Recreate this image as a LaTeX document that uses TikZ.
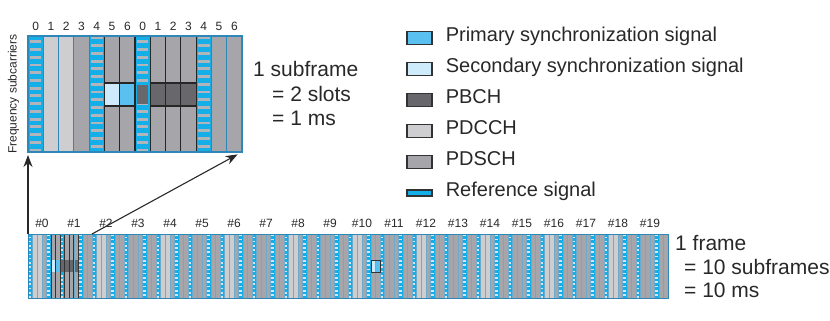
\documentclass[tikz,border=0pt]{standalone}
\usepackage{fontspec}
\setmainfont{Liberation Sans}
\usetikzlibrary{positioning, arrows.meta}
\definecolor{refsig}{RGB}{20,175,232}
\definecolor{refbar}{RGB}{178,180,186}
\definecolor{refdot}{RGB}{215,228,236}
\definecolor{pss}{RGB}{90,192,240}
\definecolor{sss}{RGB}{205,235,250}
\definecolor{pbch}{RGB}{104,104,108}
\definecolor{pdcch}{RGB}{206,206,208}
\definecolor{pdsch}{RGB}{166,166,170}
\definecolor{gridblue}{RGB}{45,135,185}
\definecolor{keyedge}{RGB}{50,50,52}
\definecolor{txt}{RGB}{40,40,40}

\tikzset{
  lbl/.style={text=txt, inner sep=0pt, text height=1.38ex, text depth=0pt},
  big/.style={lbl, font=\fontsize{20}{24}\selectfont},
  bigger/.style={lbl, font=\fontsize{21}{25}\selectfont},
  keybox/.style={draw=keyedge, line width=1.2pt, minimum width=25pt, minimum height=13pt, inner sep=0pt},
  thickcol/.style={draw=black!85, line width=1.1pt},
  thincol/.style={draw=black!80, line width=0.6pt},
}

\begin{document}
\begin{tikzpicture}[x=1pt, y=-1pt, >={Stealth[length=12pt, width=9pt]}]
  \useasboundingbox (0,0) rectangle (830,321);
  % one subframe: 2 slots of 7 symbols
  \begin{scope}[shift={(28,36)}]
    \def\w{15.2857}
    \fill[pdsch] (0,0) rectangle (214,116);
    \fill[pdcch] (\w,0) rectangle ++(2*\w,116);
    \foreach \c/\o in {0/1, 4/0, 7/1, 11/0}{
      \fill[refsig] (\c*\w,0) rectangle ++(\w,116);
      \foreach \r in {0,...,14}
        \fill[refbar] ({(\c+0.12)*\w},{(\r+0.06+0.5*\o)*7.733}) rectangle ++({0.76*\w},2.9);
    }
    \fill[sss] (5*\w,47) rectangle ++(\w,23);
    \fill[pss] (6*\w,47) rectangle ++(\w,23);
    \fill[pbch] (8*\w,47) rectangle ++(3*\w,23);
    \fill[pbch] ({7.12*\w},49) rectangle ++({0.76*\w},19);
    \foreach \c in {1,...,13}
      \draw[gridblue, line width=0.8pt] (\c*\w,0) -- ++(0,116);
    \foreach \c in {5,6,8,9,10}
      \draw[thickcol] (\c*\w,0) rectangle ++(\w,116);
    \draw[thickcol] (5*\w,47) rectangle ++(2*\w,23);
    \draw[thickcol] (8*\w,47) rectangle ++(3*\w,23);
    \draw[gridblue, line width=1.2pt] (0,0) rectangle (214,116);
    \foreach \c in {0,...,13}{
      \pgfmathtruncatemacro{\n}{mod(\c,7)}
      \node[lbl, font=\fontsize{12}{14}\selectfont] (sym\c) at ({(\c+0.5)*\w},-9) {\n};
    }
    \coordinate (sub-sw) at (0,116);
    \coordinate (sub-se) at (214,116);
  \end{scope}
  \node[lbl, rotate=90, font=\fontsize{12}{14}\selectfont] (freq) at (13,94) {Frequency subcarriers};

  % whole frame: 20 slots
  \begin{scope}[shift={(28,234)}]
    \def\w{4.5714}
    \fill[pdsch] (0,0) rectangle (640,64);
    \foreach \s in {0,2,...,18}
      \fill[pdcch] ({\s*32+\w},0) rectangle ++(2*\w,64);
    \foreach \s in {0,...,19}
      \foreach \j/\o in {0/1, 4/0}{
        \fill[refsig] ({\s*32+\j*\w},0) rectangle ++(\w,64);
        \foreach \r in {0,...,14}
          \fill[refdot] ({\s*32+(\j+0.25)*\w},{(\r+0.1+0.5*\o)*4.267}) rectangle ++({0.5*\w},1.6);
      }
    \fill[sss] (5*\w,26) rectangle ++(\w,12);
    \fill[pss] (6*\w,26) rectangle ++(\w,12);
    \fill[sss] ({320+5*\w},26) rectangle ++(\w,12);
    \fill[pss] ({320+6*\w},26) rectangle ++(\w,12);
    \fill[pbch] (32,26) rectangle ++(4*\w,12);
    \foreach \k in {1,...,139}
      \draw[gridblue!70, line width=0.3pt] ({\k*\w},0) -- ++(0,64);
    \foreach \k in {5,6,8,9,10}
      \draw[thincol] (\k*\w,0) rectangle ++(\w,64);
    \draw[thincol] ({320+5*\w},26) rectangle ++(2*\w,12);
    \draw[gridblue, line width=1pt] (0,0) rectangle (640,64);
    \foreach \s in {0,...,19}
      \node[lbl, font=\fontsize{12}{14}\selectfont] (slot\s) at ({\s*32+14},-10) {\#\s};
    \coordinate (frame-nw) at (0,0);
    \coordinate (frame-sf1) at (64,0);
  \end{scope}

  % zoom arrows
  \draw[->, txt, line width=1.1pt, shorten >=3pt] (frame-nw) -- (sub-sw);
  \draw[->, txt, line width=1.1pt, shorten >=5pt] (frame-sf1) -- (sub-se);

  \node[bigger, anchor=west] (sf-head) at (253,73) {1 subframe};
  \node[bigger, anchor=west] (sf-slots) at (272,98) {= 2 slots};
  \node[bigger, anchor=west] (sf-ms) at (272,122) {= 1 ms};
  \node[bigger, anchor=west] (fr-head) at (675,247) {1 frame};
  \node[bigger, anchor=west] (fr-sub) at (684,271) {= 10 subframes};
  \node[bigger, anchor=west] (fr-ms) at (684,294) {= 10 ms};

  % legend
  \foreach \k/\col/\lab in {0/pss/Primary synchronization signal, 1/sss/Secondary synchronization signal,
      2/pbch/PBCH, 3/pdcch/PDCCH, 4/pdsch/PDSCH}{
    \node[keybox, fill=\col] (key\k) at (419.5,{38+31*\k}) {};
    \node[big, right=13pt of key\k] (leg\k) {\lab};
  }
  \node[keybox, fill=refsig, minimum height=6pt] (key5) at (419.5,193) {};
  \node[big, right=13pt of key5] (leg5) {Reference signal};
\end{tikzpicture}
\end{document}
